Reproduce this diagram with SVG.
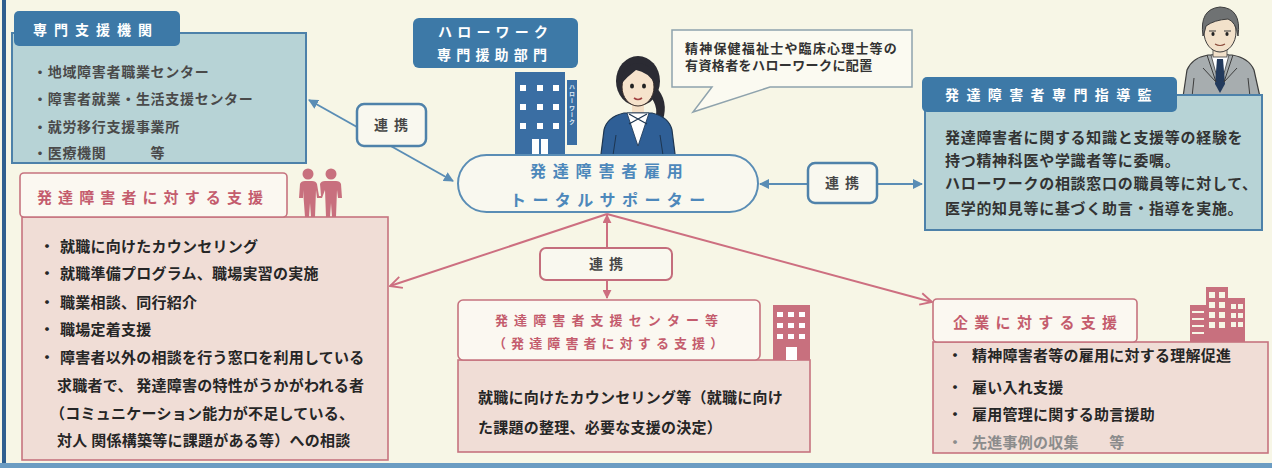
<svg xmlns="http://www.w3.org/2000/svg" width="1272" height="468" viewBox="0 0 1272 468">
  <defs>
    <style>
      text { font-family: "Noto Sans CJK JP", "Noto Sans", sans-serif; font-weight: 700; }
      .hdr { fill: #ffffff; font-size: 14px; }
      .teal-body { fill: #b7d3d6; stroke: #4d81a9; stroke-width: 2; }
      .blue-tab { fill: #3d79a7; }
      .pink-tab { fill: #fbf8f1; stroke: #c6737f; stroke-width: 1.6; }
      .pink-body { fill: #f0ddd6; stroke: #c6737f; stroke-width: 1.6; }
      .pink-title { fill: #c45c6d; font-size: 15px; font-weight: 600; }
      .item { fill: #262626; font-size: 15px; letter-spacing: 0.25px; }
      .item-gray { fill: #4a4a4a; font-size: 14px; letter-spacing: 0.7px; }
      .link-blue { fill: #f9f8ef; stroke: #4f82aa; stroke-width: 2.5; }
      .link-pink { fill: #f9f8ef; stroke: #c46d7c; stroke-width: 2; }
      .link-text { fill: #474747; font-size: 14px; letter-spacing: 6px; }
      .wire-blue { stroke: #5a8db5; stroke-width: 2; fill: none; }
      .wire-pink { stroke: #cd6f80; stroke-width: 2; fill: none; }
      .icon-pink { fill: #c8707e; }
    </style>
    <marker id="tri-blue" viewBox="0 0 10 10" refX="9" refY="5" markerWidth="5" markerHeight="5" orient="auto-start-reverse" markerUnits="strokeWidth">
      <path d="M0,0 L10,5 L0,10 Z" fill="#5a8db5"/>
    </marker>
    <marker id="tri-pink" viewBox="0 0 10 10" refX="9" refY="5" markerWidth="4.5" markerHeight="4.5" orient="auto-start-reverse" markerUnits="strokeWidth">
      <path d="M0,0 L10,5 L0,10 Z" fill="#cd6f80"/>
    </marker>
    <marker id="chev-pink" viewBox="0 0 12 12" refX="11" refY="6" markerWidth="7" markerHeight="7" orient="auto" markerUnits="strokeWidth">
      <path d="M1,1 L11,6 L1,11" fill="none" stroke="#cd6f80" stroke-width="1.6"/>
    </marker>
  </defs>

  <!-- page -->
  <rect x="0" y="0" width="1272" height="468" fill="#f7f6e6"/>
  <rect x="2" y="0" width="4" height="468" fill="#2f5f8f"/>
  <rect x="0" y="463" width="1272" height="5" fill="#6b9cc2"/>

  <!-- connectors -->
  <g id="connectors">
    <line class="wire-blue" x1="309" y1="100" x2="453" y2="181" marker-start="url(#tri-blue)" marker-end="url(#tri-blue)"/>
    <line class="wire-blue" x1="760" y1="184" x2="922" y2="184" marker-start="url(#tri-blue)" marker-end="url(#tri-blue)"/>
    <line class="wire-pink" x1="607" y1="214" x2="390" y2="286" marker-end="url(#chev-pink)"/>
    <line class="wire-pink" x1="607" y1="214" x2="932" y2="302" marker-end="url(#chev-pink)"/>
    <line class="wire-pink" x1="607" y1="215" x2="607" y2="298" marker-start="url(#tri-pink)" marker-end="url(#tri-pink)"/>
  </g>

  <!-- specialist agencies -->
  <g id="node-agencies">
    <rect class="teal-body" x="12" y="33" width="294" height="130"/>
    <rect class="blue-tab" x="14" y="11" width="166" height="35" rx="5"/>
    <text class="hdr" x="33" y="35" style="letter-spacing:7px">専門支援機関</text>
    <text class="item-gray" x="33" y="77">・地域障害者職業センター</text>
    <text class="item-gray" x="33" y="104">・障害者就業・生活支援センター</text>
    <text class="item-gray" x="33" y="132">・就労移行支援事業所</text>
    <text class="item-gray" x="33" y="158">・医療機関　　　等</text>
  </g>

  <!-- link box (left) -->
  <g id="node-link-left">
    <rect class="link-blue" x="357" y="104" width="69" height="42" rx="7"/>
    <text class="link-text" x="374" y="130">連携</text>
  </g>

  <!-- Hello Work department -->
  <g id="node-hellowork">
    <rect class="blue-tab" x="413" y="18" width="165" height="50" rx="6"/>
    <text class="hdr" x="438" y="37" style="letter-spacing:5.2px">ハローワーク</text>
    <text class="hdr" x="437" y="60" style="letter-spacing:5.2px">専門援助部門</text>
    <!-- building -->
    <rect x="515" y="72" width="50" height="90" fill="#3a6ea3"/>
    <g fill="#ffffff">
      <rect x="520" y="85" width="6" height="6"/><rect x="537" y="85" width="6" height="6"/><rect x="553" y="85" width="6" height="6"/>
      <rect x="520" y="104" width="6" height="6"/><rect x="537" y="104" width="6" height="6"/><rect x="553" y="104" width="6" height="6"/>
      <rect x="520" y="123" width="6" height="6"/><rect x="537" y="123" width="6" height="6"/><rect x="553" y="123" width="6" height="6"/>
      <rect x="532" y="139" width="7" height="18"/><rect x="541" y="139" width="7" height="18"/>
    </g>
    <rect x="567" y="80" width="10" height="65" fill="#3a6ea3"/>
    <text x="572" y="84" fill="#dfe9f3" style="font-size:6px;writing-mode:tb;letter-spacing:1px">ハローワーク</text>
  </g>

  <!-- counsellor figure -->
  <g id="node-counsellor">
    <path d="M652,84 Q668,96 664,116 Q660,126 654,122 Q660,108 650,96 Z" fill="#2b2b33"/>
    <ellipse cx="638" cy="81" rx="22" ry="25" fill="#2b2b33"/>
    <rect x="632" y="100" width="12" height="16" fill="#f4dfc6"/>
    <path d="M600,162 L604,130 Q607,117 624,113 L652,113 Q669,117 672,130 L676,162 Z" fill="#2f5f96" stroke="#1d3550" stroke-width="1.2"/>
    <path d="M627,113 L638,146 L649,113 Z" fill="#ffffff" stroke="#1d3550" stroke-width="0.8"/>
    <path d="M629,114 L647,124 M647,114 L629,124" stroke="#1d3550" stroke-width="1.2"/>
    <path d="M612,162 L616,135 M664,162 L660,135" stroke="#1d3550" stroke-width="1"/>
    <ellipse cx="638" cy="87" rx="16" ry="19" fill="#f6e3cc" stroke="#3a2e2a" stroke-width="1"/>
    <path d="M621,84 Q622,64 638,63 Q655,64 655,84 Q648,72 636,70 Q628,76 621,84 Z" fill="#2b2b33"/>
    <ellipse cx="632" cy="86" rx="2" ry="2.5" fill="#222"/>
    <ellipse cx="644" cy="86" rx="2" ry="2.5" fill="#222"/>
    <path d="M634,98 Q638,101 642,98" stroke="#a04040" stroke-width="1.6" fill="none"/>
  </g>

  <!-- speech bubble -->
  <g id="node-bubble">
    <path d="M672,30 H912 V87 H770 L693,112 L712,87 H672 Z" fill="#fbfaf1" stroke="#8fa3ad" stroke-width="1.5"/>
    <text x="685" y="53" fill="#333333" style="font-size:13px;letter-spacing:1.2px">精神保健福祉士や臨床心理士等の</text>
    <text x="685" y="70" fill="#333333" style="font-size:13px;letter-spacing:0.4px">有資格者をハローワークに配置</text>
  </g>

  <!-- total supporter -->
  <g id="node-supporter">
    <rect x="458" y="155" width="300" height="57" rx="28.5" fill="#f9f8ef" stroke="#5a8db5" stroke-width="2"/>
    <text x="530" y="177" fill="#4d88bb" style="font-size:16px;letter-spacing:6.8px">発達障害者雇用</text>
    <text x="510" y="206" fill="#4d88bb" style="font-size:16px;letter-spacing:6.4px">トータルサポーター</text>
  </g>

  <!-- link box (right) -->
  <g id="node-link-right">
    <rect class="link-blue" x="808" y="163" width="69" height="40" rx="7"/>
    <text class="link-text" x="825" y="188">連携</text>
  </g>

  <!-- specialist advisor -->
  <g id="node-advisor">
    <path d="M1183,97 L1187,70 Q1192,58 1208,55 L1232,55 Q1249,58 1254,70 L1260,97 Z" fill="#a7adaf" stroke="#3d3d3d" stroke-width="1.2"/>
    <path d="M1211,55 L1220,88 L1229,55 Z" fill="#ffffff" stroke="#3d3d3d" stroke-width="0.8"/>
    <path d="M1217,59 L1223,59 L1225,84 L1220,93 L1215,84 Z" fill="#233a5c"/>
    <path d="M1207,55 L1216,82 L1203,68 M1233,55 L1224,82 L1237,68" stroke="#3d3d3d" stroke-width="1" fill="none"/>
    <path d="M1192,97 L1194,78 M1250,97 L1248,78" stroke="#3d3d3d" stroke-width="1"/>
    <rect x="1213" y="44" width="14" height="13" fill="#f2e1ca" stroke="#3d3d3d" stroke-width="0.8"/>
    <ellipse cx="1220" cy="32" rx="16" ry="20" fill="#f2e1ca" stroke="#3d3d3d" stroke-width="1"/>
    <path d="M1203,36 Q1199,9 1220,7 Q1242,8 1238,36 Q1236,22 1228,19 Q1214,20 1206,26 Q1205,31 1203,36 Z" fill="#6f7273" stroke="#3d3d3d" stroke-width="1"/>
    <path d="M1209,31 L1216,31 M1224,31 L1231,31" stroke="#3d3d3d" stroke-width="1"/>
    <ellipse cx="1213" cy="34" rx="1.6" ry="2" fill="#222"/>
    <ellipse cx="1227" cy="34" rx="1.6" ry="2" fill="#222"/>
    <path d="M1215,44 Q1220,47 1225,44" stroke="#8a4a3a" stroke-width="1.2" fill="none"/>
    <rect class="teal-body" x="925" y="95" width="337" height="135"/>
    <rect class="blue-tab" x="922" y="77" width="255" height="35" rx="5"/>
    <text class="hdr" x="945" y="100" style="letter-spacing:7.4px">発達障害者専門指導監</text>
    <text x="945" y="143" fill="#333333" style="font-size:15px;letter-spacing:0.7px">発達障害者に関する知識と支援等の経験を</text>
    <text x="945" y="166" fill="#333333" style="font-size:15px;letter-spacing:0.7px">持つ精神科医や学識者等に委嘱。</text>
    <text x="945" y="189" fill="#333333" style="font-size:15px;letter-spacing:0.7px">ハローワークの相談窓口の職員等に対して、</text>
    <text x="945" y="214" fill="#333333" style="font-size:15px;letter-spacing:0.7px">医学的知見等に基づく助言・指導を実施。</text>
  </g>

  <!-- support for persons with developmental disabilities -->
  <g id="node-person-support">
    <rect class="pink-body" x="22" y="217" width="366" height="243"/>
    <rect class="pink-tab" x="20" y="173" width="267" height="44" rx="4"/>
    <text class="pink-title" x="37" y="203" style="letter-spacing:6.1px">発達障害者に対する支援</text>
    <!-- couple icon -->
    <g class="icon-pink">
      <circle cx="308" cy="174" r="5.5"/>
      <circle cx="331" cy="174" r="5.5"/>
      <path d="M299,198 L300,184 Q301,181 305,181 L312,181 Q316,181 317,184 L319,196 L321,196 L320,184 Q321,181 325,181 L336,181 Q340,181 341,184 L342,198 L338,198 L337,190 L336,217 L332,217 L331,203 L330,217 L326,217 L325,190 L322,198 L317,198 L316,190 L315,217 L311,217 L310,203 L309,217 L305,217 L303,190 L303,198 Z"/>
    </g>
    <text class="item" x="39.5" y="252">・</text>
    <text class="item" x="60" y="252">就職に向けたカウンセリング</text>
    <text class="item" x="39.5" y="279">・</text>
    <text class="item" x="60" y="279">就職準備プログラム、職場実習の実施</text>
    <text class="item" x="39.5" y="308">・</text>
    <text class="item" x="60" y="308">職業相談、同行紹介</text>
    <text class="item" x="39.5" y="335">・</text>
    <text class="item" x="60" y="335">職場定着支援</text>
    <text class="item" x="39.5" y="363">・</text>
    <text class="item" x="60" y="363">障害者以外の相談を行う窓口を利用している</text>
    <text class="item" x="57" y="391">求職者で、 発達障害の特性がうかがわれる者</text>
    <text class="item" x="50" y="419">（コミュニケーション能力が不足している、</text>
    <text class="item" x="57" y="446">対人 関係構築等に課題がある等）への相談</text>
  </g>

  <!-- link box (centre) -->
  <g id="node-link-centre">
    <rect class="link-pink" x="540" y="248" width="132" height="32" rx="6"/>
    <text class="link-text" x="589" y="269">連携</text>
  </g>

  <!-- developmental disability support centre -->
  <g id="node-centre">
    <rect class="pink-body" x="458" y="360" width="352" height="92"/>
    <rect class="pink-tab" x="458" y="300" width="302" height="60" rx="5"/>
    <text x="495" y="325" fill="#c45c6d" style="font-size:13px;font-weight:600;letter-spacing:6.1px">発達障害者支援センター等</text>
    <text x="493" y="348" fill="#c45c6d" style="font-size:13px;font-weight:600;letter-spacing:5.1px">（発達障害者に対する支援）</text>
    <g>
      <rect class="icon-pink" x="773" y="305" width="37" height="55"/>
      <g fill="#ffffff">
        <rect x="777" y="312" width="6" height="5"/><rect x="788" y="312" width="6" height="5"/><rect x="799" y="312" width="6" height="5"/>
        <rect x="777" y="323" width="6" height="5"/><rect x="788" y="323" width="6" height="5"/><rect x="799" y="323" width="6" height="5"/>
        <rect x="777" y="334" width="6" height="5"/><rect x="788" y="334" width="6" height="5"/><rect x="799" y="334" width="6" height="5"/>
        <rect x="786" y="347" width="11" height="13"/>
      </g>
    </g>
    <text class="item" x="478" y="403">就職に向けたカウンセリング等（就職に向け</text>
    <text class="item" x="478" y="433">た課題の整理、必要な支援の決定）</text>
  </g>

  <!-- support for employers -->
  <g id="node-employer-support">
    <g>
      <rect class="icon-pink" x="1190" y="305" width="16" height="37"/>
      <rect class="icon-pink" x="1206" y="287" width="22" height="55"/>
      <rect class="icon-pink" x="1228" y="298" width="17" height="44"/>
      <g fill="#f7f6e6">
        <rect x="1192" y="311" width="12" height="2"/><rect x="1192" y="318" width="12" height="2"/><rect x="1192" y="325" width="12" height="2"/><rect x="1192" y="332" width="12" height="2"/>
        <rect x="1209" y="292" width="6" height="6"/><rect x="1219" y="292" width="6" height="6"/>
        <rect x="1209" y="302" width="6" height="6"/><rect x="1219" y="302" width="6" height="6"/>
        <rect x="1209" y="312" width="6" height="6"/><rect x="1219" y="312" width="6" height="6"/>
        <rect x="1209" y="322" width="6" height="6"/><rect x="1219" y="322" width="6" height="6"/>
        <rect x="1231" y="304" width="5" height="5"/><rect x="1238" y="304" width="5" height="5"/>
        <rect x="1231" y="313" width="5" height="5"/><rect x="1238" y="313" width="5" height="5"/>
        <rect x="1231" y="322" width="5" height="5"/><rect x="1238" y="322" width="5" height="5"/>
      </g>
    </g>
    <rect class="pink-body" x="933" y="342" width="335" height="111"/>
    <rect class="pink-tab" x="933" y="299" width="204" height="43" rx="4"/>
    <text class="pink-title" x="953" y="328" style="letter-spacing:6.3px">企業に対する支援</text>
    <text class="item" x="947.5" y="361">・</text>
    <text class="item" x="972" y="361">精神障害者等の雇用に対する理解促進</text>
    <text class="item" x="947.5" y="393">・</text>
    <text class="item" x="972" y="393">雇い入れ支援</text>
    <text class="item" x="947.5" y="420">・</text>
    <text class="item" x="972" y="420">雇用管理に関する助言援助</text>
    <text class="item" x="947.5" y="448" style="fill:#8c8c8c">・</text>
    <text class="item" x="972" y="448" style="fill:#8c8c8c">先進事例の収集　　等</text>
  </g>
</svg>
